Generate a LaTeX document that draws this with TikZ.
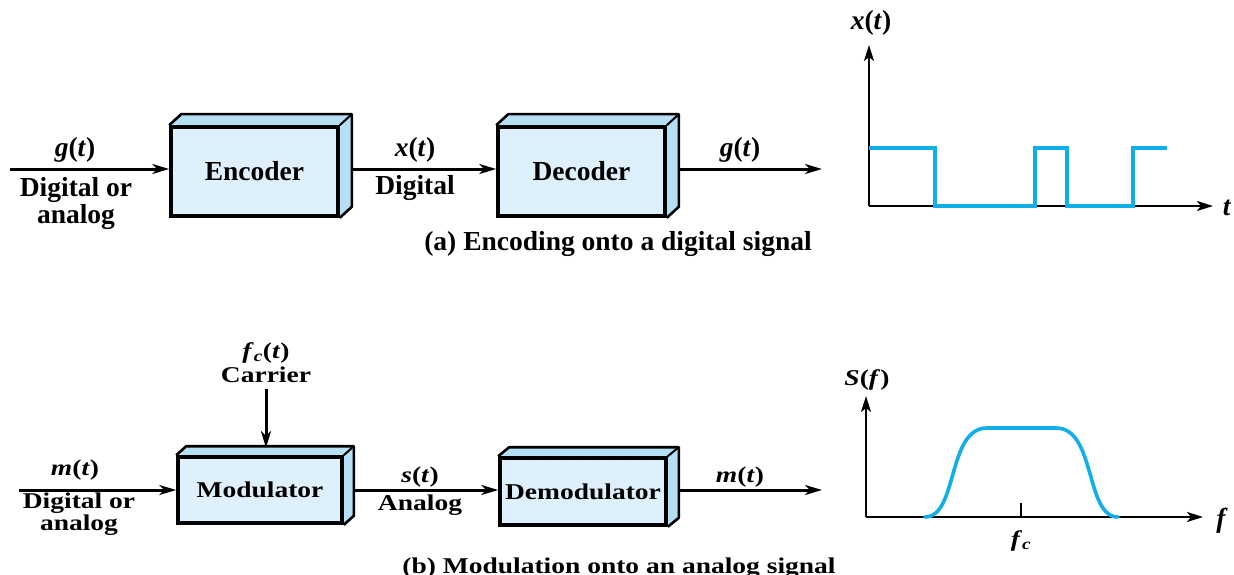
\documentclass[tikz,border=0pt]{standalone}
\usepackage{fontspec}
\usepackage{graphicx}
\setmainfont{Liberation Serif}
\usetikzlibrary{arrows.meta,calc}
\definecolor{boxfront}{HTML}{DDF0FB}
\definecolor{boxside}{HTML}{B5DFF5}
\definecolor{sig}{HTML}{12AEEA}
\tikzset{
  blk/.style={draw=black, line width=3.6pt, fill=boxfront, inner sep=0pt,
    font=\fontsize{27.5}{29}\selectfont\bfseries},
  lbl/.style={font=\fontsize{27.5}{29}\selectfont\bfseries, inner sep=0pt, align=center},
  flow/.style={line width=3pt, -{Stealth[length=17pt,width=10pt,inset=5pt]}},
  axis/.style={line width=2.2pt, -{Stealth[length=16pt,width=10pt,inset=4pt]}},
  wave/.style={draw=sig, line width=3.6pt, line join=miter},
}
% lower half is set with slightly flattened lettering
\newcommand\squashed[1]{\scalebox{1}[0.82]{#1}}
% 3-D depth of a block: top and right faces behind the front face
\newcommand\blockdepth[3]{%
  \fill[boxside] (#1.north west) -- ++(#2pt,#3pt) -- ($(#1.north east)+(#2pt,#3pt)$)
     -- ($(#1.south east)+(#2pt,#3pt)$) -- (#1.south east) -- (#1.north east) -- cycle;
  \draw[line width=2.6pt, line join=round] (#1.north west) -- ++(#2pt,#3pt) -- ($(#1.north east)+(#2pt,#3pt)$)
     -- ($(#1.south east)+(#2pt,#3pt)$) -- (#1.south east);
  \draw[line width=2pt] (#1.north east) -- ++(#2pt,#3pt);
}
\begin{document}
\begin{tikzpicture}[x=1pt,y=-1pt]
\useasboundingbox (0,0) rectangle (1234,575);

% ---------- (a) encoding onto a digital signal ----------
\node[blk, minimum width=167pt, minimum height=89pt] (enc) at (254.5,171.5) {Encoder};
\node[blk, minimum width=167pt, minimum height=89pt] (dec) at (581.5,171.5) {Decoder};
\blockdepth{enc}{12}{11}
\blockdepth{dec}{12}{11}
\node[blk, minimum width=167pt, minimum height=89pt] at (enc) {Encoder};
\node[blk, minimum width=167pt, minimum height=89pt] at (dec) {Decoder};

\coordinate (ain) at (10,169);
\coordinate (aout) at (822,169);
\draw[flow] (ain) -- (enc.west |- ain);
\draw[flow] ($(enc.east |- ain)+(12pt,0)$) -- (dec.west |- ain);
\draw[flow] ($(dec.east |- ain)+(12pt,0)$) -- (aout);

\node[lbl] (ga) at (75,150) {\textit{g}(\textit{t})};
\node[lbl] (ga2) at (76,203) {Digital or\\[-2pt]analog};
\node[lbl] (xa) at (415,150) {\textit{x}(\textit{t})};
\node[lbl] (xa2) at (415,188) {Digital};
\node[lbl] (gb) at (740,150) {\textit{g}(\textit{t})};
\node[lbl] (capa) at (618,244) {(a) Encoding onto a digital signal};

% time-domain plot
\coordinate (o1) at (869,206);
\coordinate (y1) at (869,45);
\coordinate (x1) at (1213,206);
\draw[axis] (o1) -- (y1);
\draw[axis] (o1) -- (x1);
\node[lbl] (xt) at (871,23) {\textit{x}(\textit{t})};
\node[lbl] (tl) at (1227,208) {\textit{t}};
\draw[wave] (869,148) -- (935,148) -- (935,206) -- (1035,206) -- (1035,148)
   -- (1067,148) -- (1067,206) -- (1133,206) -- (1133,148) -- (1167,148);

% ---------- (b) modulation onto an analog signal ----------
\node[blk, minimum width=164pt, minimum height=66pt] (mod) at (260,490) {\squashed{Modulator}};
\node[blk, minimum width=166pt, minimum height=67pt] (dem) at (583,491.5) {\squashed{Demodulator}};
\blockdepth{mod}{10}{9}
\blockdepth{dem}{11}{9}
\node[blk, minimum width=164pt, minimum height=66pt] at (mod) {\squashed{Modulator}};
\node[blk, minimum width=166pt, minimum height=67pt] at (dem) {\squashed{Demodulator}};

\coordinate (bin) at (19,490);
\coordinate (bout) at (822,490);
\draw[flow] (bin) -- (mod.west |- bin);
\draw[flow] ($(mod.east |- bin)+(10pt,0)$) -- (dem.west |- bin);
\draw[flow] ($(dem.east |- bin)+(11pt,0)$) -- (bout);

\node[lbl] (fc) at (266,353) {\squashed{\textit{f}\textsubscript{\textit{c}}(\textit{t})}};
\node[lbl] (car) at (266,375) {\squashed{Carrier}};
\draw[flow] (266,389) -- (266,448);

\node[lbl] (mb) at (75,470) {\squashed{\textit{m}(\textit{t})}};
\node[lbl] (mb2) at (79,503) {\squashed{Digital or}};
\node[lbl] (mb3) at (79,525) {\squashed{analog}};
\node[lbl] (sb) at (420,477) {\squashed{\textit{s}(\textit{t})}};
\node[lbl] (sb2) at (420,505) {\squashed{Analog}};
\node[lbl] (mc) at (740,477) {\squashed{\textit{m}(\textit{t})}};
\node[lbl] (capb) at (619,568) {\squashed{(b) Modulation onto an analog signal}};

% spectrum plot
\coordinate (o2) at (866,517);
\coordinate (y2) at (866,396);
\coordinate (x2) at (1203,517);
\draw[axis] (o2) -- (y2);
\draw[axis] (o2) -- (x2);
\node[lbl] (sf) at (867,380) {\squashed{\textit{S}(\textit{f})}};
\node[lbl] (fl) at (1222,521) {\textit{f}};
\draw[line width=2pt] (1021,517) -- (1021,503);
\node[lbl] (fcl) at (1021,541) {\squashed{\textit{f}\textsubscript{\textit{c}}}};
\draw[wave, line cap=round] (925,517) .. controls (958,517) and (947,428) .. (987,428)
   -- (1056,428) .. controls (1096,428) and (1085,517) .. (1118,517);
\end{tikzpicture}
\end{document}
